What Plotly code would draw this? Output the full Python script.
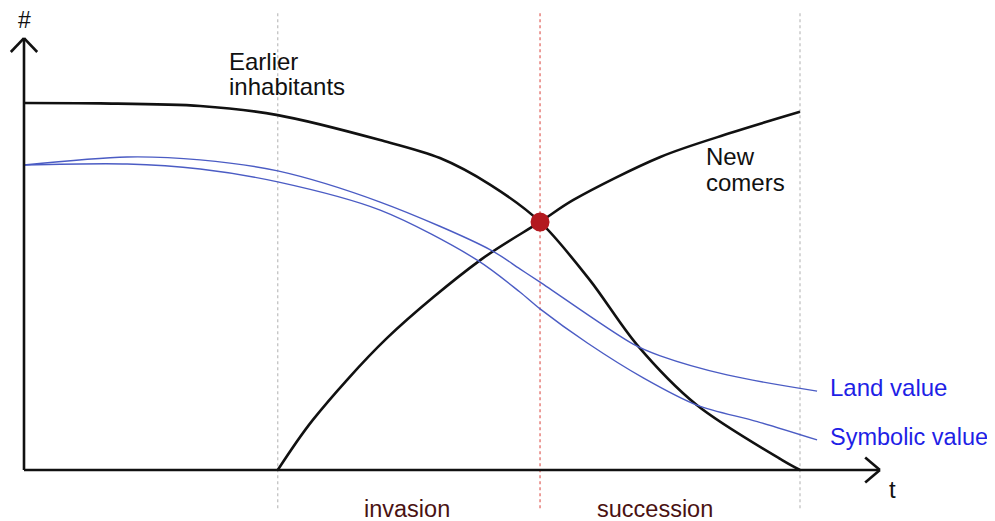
import plotly.graph_objects as go

# ---- data (t = time units, value = # units) ----
earlier_t = [0, 9.8, 22.7, 32.7, 45.9, 53.6, 60.1, 66.5, 72.9, 79.0, 86.7, 97.7, 100]
earlier_v = [100, 99.9, 99.2, 96.7, 89.9, 85.0, 77.7, 67.6, 51.8, 34.1, 17.7, 2.7, 0]

newcomers_t = [32.7, 37.2, 46.8, 58.8, 66.5, 70.8, 82.0, 91.0, 100]
newcomers_v = [0, 13.6, 36.0, 57.2, 67.6, 73.6, 85.3, 91.8, 97.6]

land_t = [0, 13.3, 22.7, 32.7, 45.9, 60.1, 63.9, 66.5, 78.5, 82.0, 90.6, 102.2]
land_v = [83.1, 85.3, 84.5, 81.5, 73.0, 60.0, 54.8, 51.2, 34.3, 31.1, 25.9, 21.5]

symbolic_t = [0, 13.3, 22.7, 32.7, 45.9, 58.4, 63.9, 66.5, 72.6, 79.8, 86.7, 94.5, 102.2]
symbolic_v = [83.1, 83.4, 82.0, 78.5, 70.8, 57.2, 48.5, 43.9, 34.6, 25.1, 17.7, 13.2, 8.2]

invasion_start = 32.7
turning_point = 66.5
succession_end = 100
turning_value = 67.6

FONT = "Liberation Sans, Arial, sans-serif"
BLACK = "#111111"
BLUE_LINE = "#4b5cc4"
BLUE_TEXT = "#1f1fe6"
PHASE_TEXT = "#4a1212"

fig = go.Figure()

fig.add_trace(go.Scatter(x=earlier_t, y=earlier_v, mode="lines",
                         line=dict(color=BLACK, width=2.6, shape="spline", smoothing=0.9),
                         hoverinfo="skip", showlegend=False))
fig.add_trace(go.Scatter(x=newcomers_t, y=newcomers_v, mode="lines",
                         line=dict(color=BLACK, width=2.6, shape="spline", smoothing=0.9),
                         hoverinfo="skip", showlegend=False))
fig.add_trace(go.Scatter(x=land_t, y=land_v, mode="lines",
                         line=dict(color=BLUE_LINE, width=1.4, shape="spline", smoothing=0.9),
                         hoverinfo="skip", showlegend=False))
fig.add_trace(go.Scatter(x=symbolic_t, y=symbolic_v, mode="lines",
                         line=dict(color=BLUE_LINE, width=1.4, shape="spline", smoothing=0.9),
                         hoverinfo="skip", showlegend=False))
fig.add_trace(go.Scatter(x=[turning_point], y=[turning_value], mode="markers",
                         marker=dict(color="#b3191f", size=19),
                         hoverinfo="skip", showlegend=False))

shapes = []
# phase separators
for xv, col in [(invasion_start, "#bdbdbd"), (succession_end, "#bdbdbd"), (turning_point, "#e0605a")]:
    shapes.append(dict(type="line", xref="x", yref="y", x0=xv, x1=xv, y0=-10.4, y1=124.8,
                       line=dict(color=col, width=1.2, dash="dot"), layer="below"))
# axes with arrow heads
ax_line = dict(color=BLACK, width=2.6)
shapes += [
    dict(type="line", xref="x", yref="y", x0=0, x1=0, y0=0, y1=117.7, line=ax_line),
    dict(type="line", xref="x", yref="y", x0=-1.7, x1=0, y0=113.9, y1=117.7, line=ax_line),
    dict(type="line", xref="x", yref="y", x0=1.7, x1=0, y0=113.9, y1=117.7, line=ax_line),
    dict(type="line", xref="x", yref="y", x0=0, x1=110.3, y0=0, y1=0, line=ax_line),
    dict(type="line", xref="x", yref="y", x0=108.4, x1=110.3, y0=3.4, y1=0, line=ax_line),
    dict(type="line", xref="x", yref="y", x0=108.4, x1=110.3, y0=-3.4, y1=0, line=ax_line),
]

def ann(text, x, y, color=BLACK, size=24, xanchor="left"):
    return dict(text=text, x=x, y=y, xref="x", yref="y", showarrow=False,
                xanchor=xanchor, yanchor="middle", borderpad=0,
                font=dict(family=FONT, size=size, color=color))

annotations = [
    ann("#", 0, 122.6, size=23, xanchor="center"),
    ann("t", 111.3, -5.2, size=24),
    ann("Earlier", 26.3, 111.2),
    ann("inhabitants", 26.3, 104.6),
    ann("New", 87.8, 85.3),
    ann("comers", 87.8, 78.4),
    ann("Land value", 103.7, 22.6, color=BLUE_TEXT),
    ann("Symbolic value", 103.7, 9.0, color=BLUE_TEXT, size=23.5),
    ann("invasion", 49.4, -10.6, color=PHASE_TEXT, size=23.5, xanchor="center"),
    ann("succession", 81.3, -10.6, color=PHASE_TEXT, size=23.5, xanchor="center"),
]

# the page body has an 8px margin; ranges are set so the drawing lands where the reference has it
fig.update_layout(
    width=995, height=521,
    margin=dict(l=0, r=0, t=0, b=0),
    plot_bgcolor="white", paper_bgcolor="white",
    xaxis=dict(range=[-2.062, 126.16], visible=False, fixedrange=True),
    yaxis=dict(range=[-16.08, 125.89], visible=False, fixedrange=True),
    shapes=shapes, annotations=annotations,
    showlegend=False,
)

fig.write_html("out.html")
